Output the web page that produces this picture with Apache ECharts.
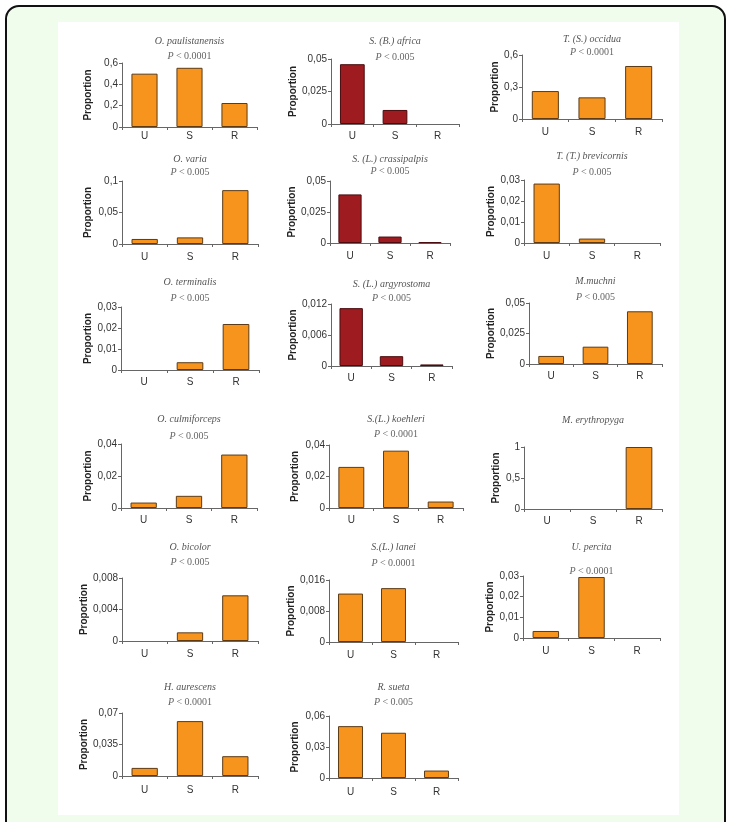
<!DOCTYPE html>
<html><head><meta charset="utf-8">
<script src="https://cdn.jsdelivr.net/npm/echarts@6/dist/echarts.min.js"></script>
<style>
html,body{margin:0;padding:0;background:#fff;width:731px;height:822px;overflow:hidden;}
#frame{position:absolute;left:5px;top:5px;width:717px;height:840px;border:2px solid #111;border-radius:14px;background:#f0fcec;box-sizing:content-box;}
#panel{position:absolute;left:58px;top:22px;width:621px;height:793px;background:#fff;}
#chart{position:absolute;left:0;top:0;width:731px;height:822px;}
</style></head>
<body>
<div id="frame"></div><div id="panel"></div><div id="chart"></div>
<script>
// ---- data ----
var categories = ['U', 'S', 'R'];
var species = ['O. paulistanensis', 'S. (B.) africa', 'T. (S.) occidua',
  'O. varia', 'S. (L.) crassipalpis', 'T. (T.) brevicornis',
  'O. terminalis', 'S. (L.) argyrostoma', 'M.muchni',
  'O. culmiforceps', 'S.(L.) koehleri', 'M. erythropyga',
  'O. bicolor', 'S.(L.) lanei', 'U. percita',
  'H. aurescens', 'R. sueta'];
var pValues = ['< 0.0001', '< 0.005', '< 0.0001',
  '< 0.005', '< 0.005', '< 0.005',
  '< 0.005', '< 0.005', '< 0.005',
  '< 0.005', '< 0.0001', null,
  '< 0.005', '< 0.0001', '< 0.0001',
  '< 0.0001', '< 0.005'];
var groupType = ['o', 'r', 'o', 'o', 'r', 'o', 'o', 'r', 'o', 'o', 'o', 'o', 'o', 'o', 'o', 'o', 'o'];
var v1 = [0.50, 0.555, 0.225];
var v2 = [0.046, 0.0108, 0];
var v3 = [0.262, 0.203, 0.497];
var v4 = [0.008, 0.0105, 0.0855];
var v5 = [0.0392, 0.0052, 0.0007];
var v6 = [0.0283, 0.0021, 0];
var v7 = [0, 0.0037, 0.0219];
var v8 = [0.0112, 0.0019, 0.0003];
var v9 = [0.0066, 0.0142, 0.0432];
var v10 = [0.0034, 0.0076, 0.0334];
var v11 = [0.0261, 0.0364, 0.0041];
var v12 = [0, 0, 1];
var v13 = [0, 0.0011, 0.0058];
var v14 = [0.0125, 0.0139, 0];
var v15 = [0.0034, 0.0295, 0];
var v16 = [0.009, 0.061, 0.022];
var v17 = [0.0502, 0.0438, 0.0072];
var seriesValues = [v1, v2, v3, v4, v5, v6, v7, v8, v9, v10, v11, v12, v13, v14, v15, v16, v17];
var yMax = [0.6, 0.05, 0.6, 0.1, 0.05, 0.03, 0.03, 0.012, 0.05, 0.04, 0.04, 1, 0.008, 0.016, 0.03, 0.07, 0.06];
var yStep = [0.2, 0.025, 0.3, 0.05, 0.025, 0.01, 0.01, 0.006, 0.025, 0.02, 0.02, 0.5, 0.004, 0.008, 0.01, 0.035, 0.03];

// ---- layout (pixels): [left, top, width, height, titleY, pY, nameX, labelMargin] ----
var layout = [
  [122, 63, 135, 64, 42, 57, 87, 4], [331, 59, 128, 65, 42, 58, 294, 7], [522, 55, 140, 64, 40, 53, 495, 8],
  [122, 181, 136, 63, 160, 173, 87, 8], [330, 181, 120, 62, 160, 172, 294, 8], [524, 180, 136, 63, 157, 173, 495, 8],
  [121, 307, 138, 63, 283, 299, 87, 7], [331, 304, 121, 62, 285, 299, 294, 7], [529, 303, 133, 61, 282, 298, 495, 7],
  [121, 444, 136, 64, 420, 437, 87, 7], [329, 445, 134, 63, 420, 435, 294, 7], [524, 447, 138, 62, 421, 0, 495, 7],
  [122, 578, 136, 63, 548, 563, 87, 8], [329, 580, 129, 62, 548, 564, 294, 8], [523, 576, 137, 62, 548, 572, 495, 8],
  [122, 713, 136, 63, 688, 703, 87, 9], [329, 716, 129, 62, 688, 703, 294, 9]
];

var fillColors = { o: '#f7941e', r: '#9e1b20' };
var borderColors = { o: '#5c3b16', r: '#4a0c0e' };
var sans = '"Liberation Sans", Arial, sans-serif';
var serif = '"Liberation Serif", "Times New Roman", serif';

function fmt(v) { return String(+Number(v).toFixed(6)).replace('.', ','); }

var grids = [], xAxes = [], yAxes = [], series = [], titles = [];
species.forEach(function (name, i) {
  var L = layout[i];
  grids.push({ left: L[0], top: L[1], width: L[2], height: L[3], containLabel: false });
  xAxes.push({
    type: 'category', gridIndex: i, data: categories,
    axisLine: { lineStyle: { color: '#666', width: 1 } },
    axisTick: { show: true, alignWithLabel: false, length: 3, lineStyle: { color: '#666' } },
    axisLabel: { margin: L[7], fontFamily: sans, fontSize: 10, color: '#333' }
  });
  yAxes.push({
    type: 'value', gridIndex: i, min: 0, max: yMax[i], interval: yStep[i],
    name: 'Proportion', nameLocation: 'middle', nameRotate: 90,
    nameGap: L[0] - L[6] - 6,
    nameTextStyle: { fontFamily: sans, fontSize: 10, fontWeight: 'bold', color: '#222' },
    splitLine: { show: false },
    axisLine: { show: true, lineStyle: { color: '#666', width: 1 } },
    axisTick: { show: true, length: 3, lineStyle: { color: '#666' } },
    axisLabel: { margin: 4, fontFamily: sans, fontSize: 10, color: '#333', formatter: fmt }
  });
  series.push({
    type: 'bar', xAxisIndex: i, yAxisIndex: i,
    data: seriesValues[i].map(function (v) {
      return v === 0 ? { value: v, itemStyle: { borderWidth: 0, opacity: 0 } } : v;
    }),
    barCategoryGap: '42%',
    itemStyle: { color: fillColors[groupType[i]], borderColor: borderColors[groupType[i]], borderWidth: 1 },
    silent: true, animation: false
  });
  var cx = L[0] + L[2] / 2;
  titles.push({
    text: name, left: cx, top: L[4] - 6, textAlign: 'center', padding: 0,
    textStyle: { fontFamily: serif, fontSize: 10, fontStyle: 'italic', fontWeight: 'normal', color: '#555' }
  });
  if (pValues[i]) {
    titles.push({
      text: '{i|P} ' + pValues[i], left: cx, top: L[5] - 6, textAlign: 'center', padding: 0,
      textStyle: { fontFamily: serif, fontSize: 10, fontWeight: 'normal', color: '#666',
        rich: { i: { fontFamily: serif, fontSize: 10, fontStyle: 'italic', color: '#666' } } }
    });
  }
});

var chart = echarts.init(document.getElementById('chart'), null, { renderer: 'canvas' });
chart.setOption({
  animation: false,
  backgroundColor: 'transparent',
  title: titles,
  grid: grids,
  xAxis: xAxes,
  yAxis: yAxes,
  series: series
});
</script>
</body></html>
